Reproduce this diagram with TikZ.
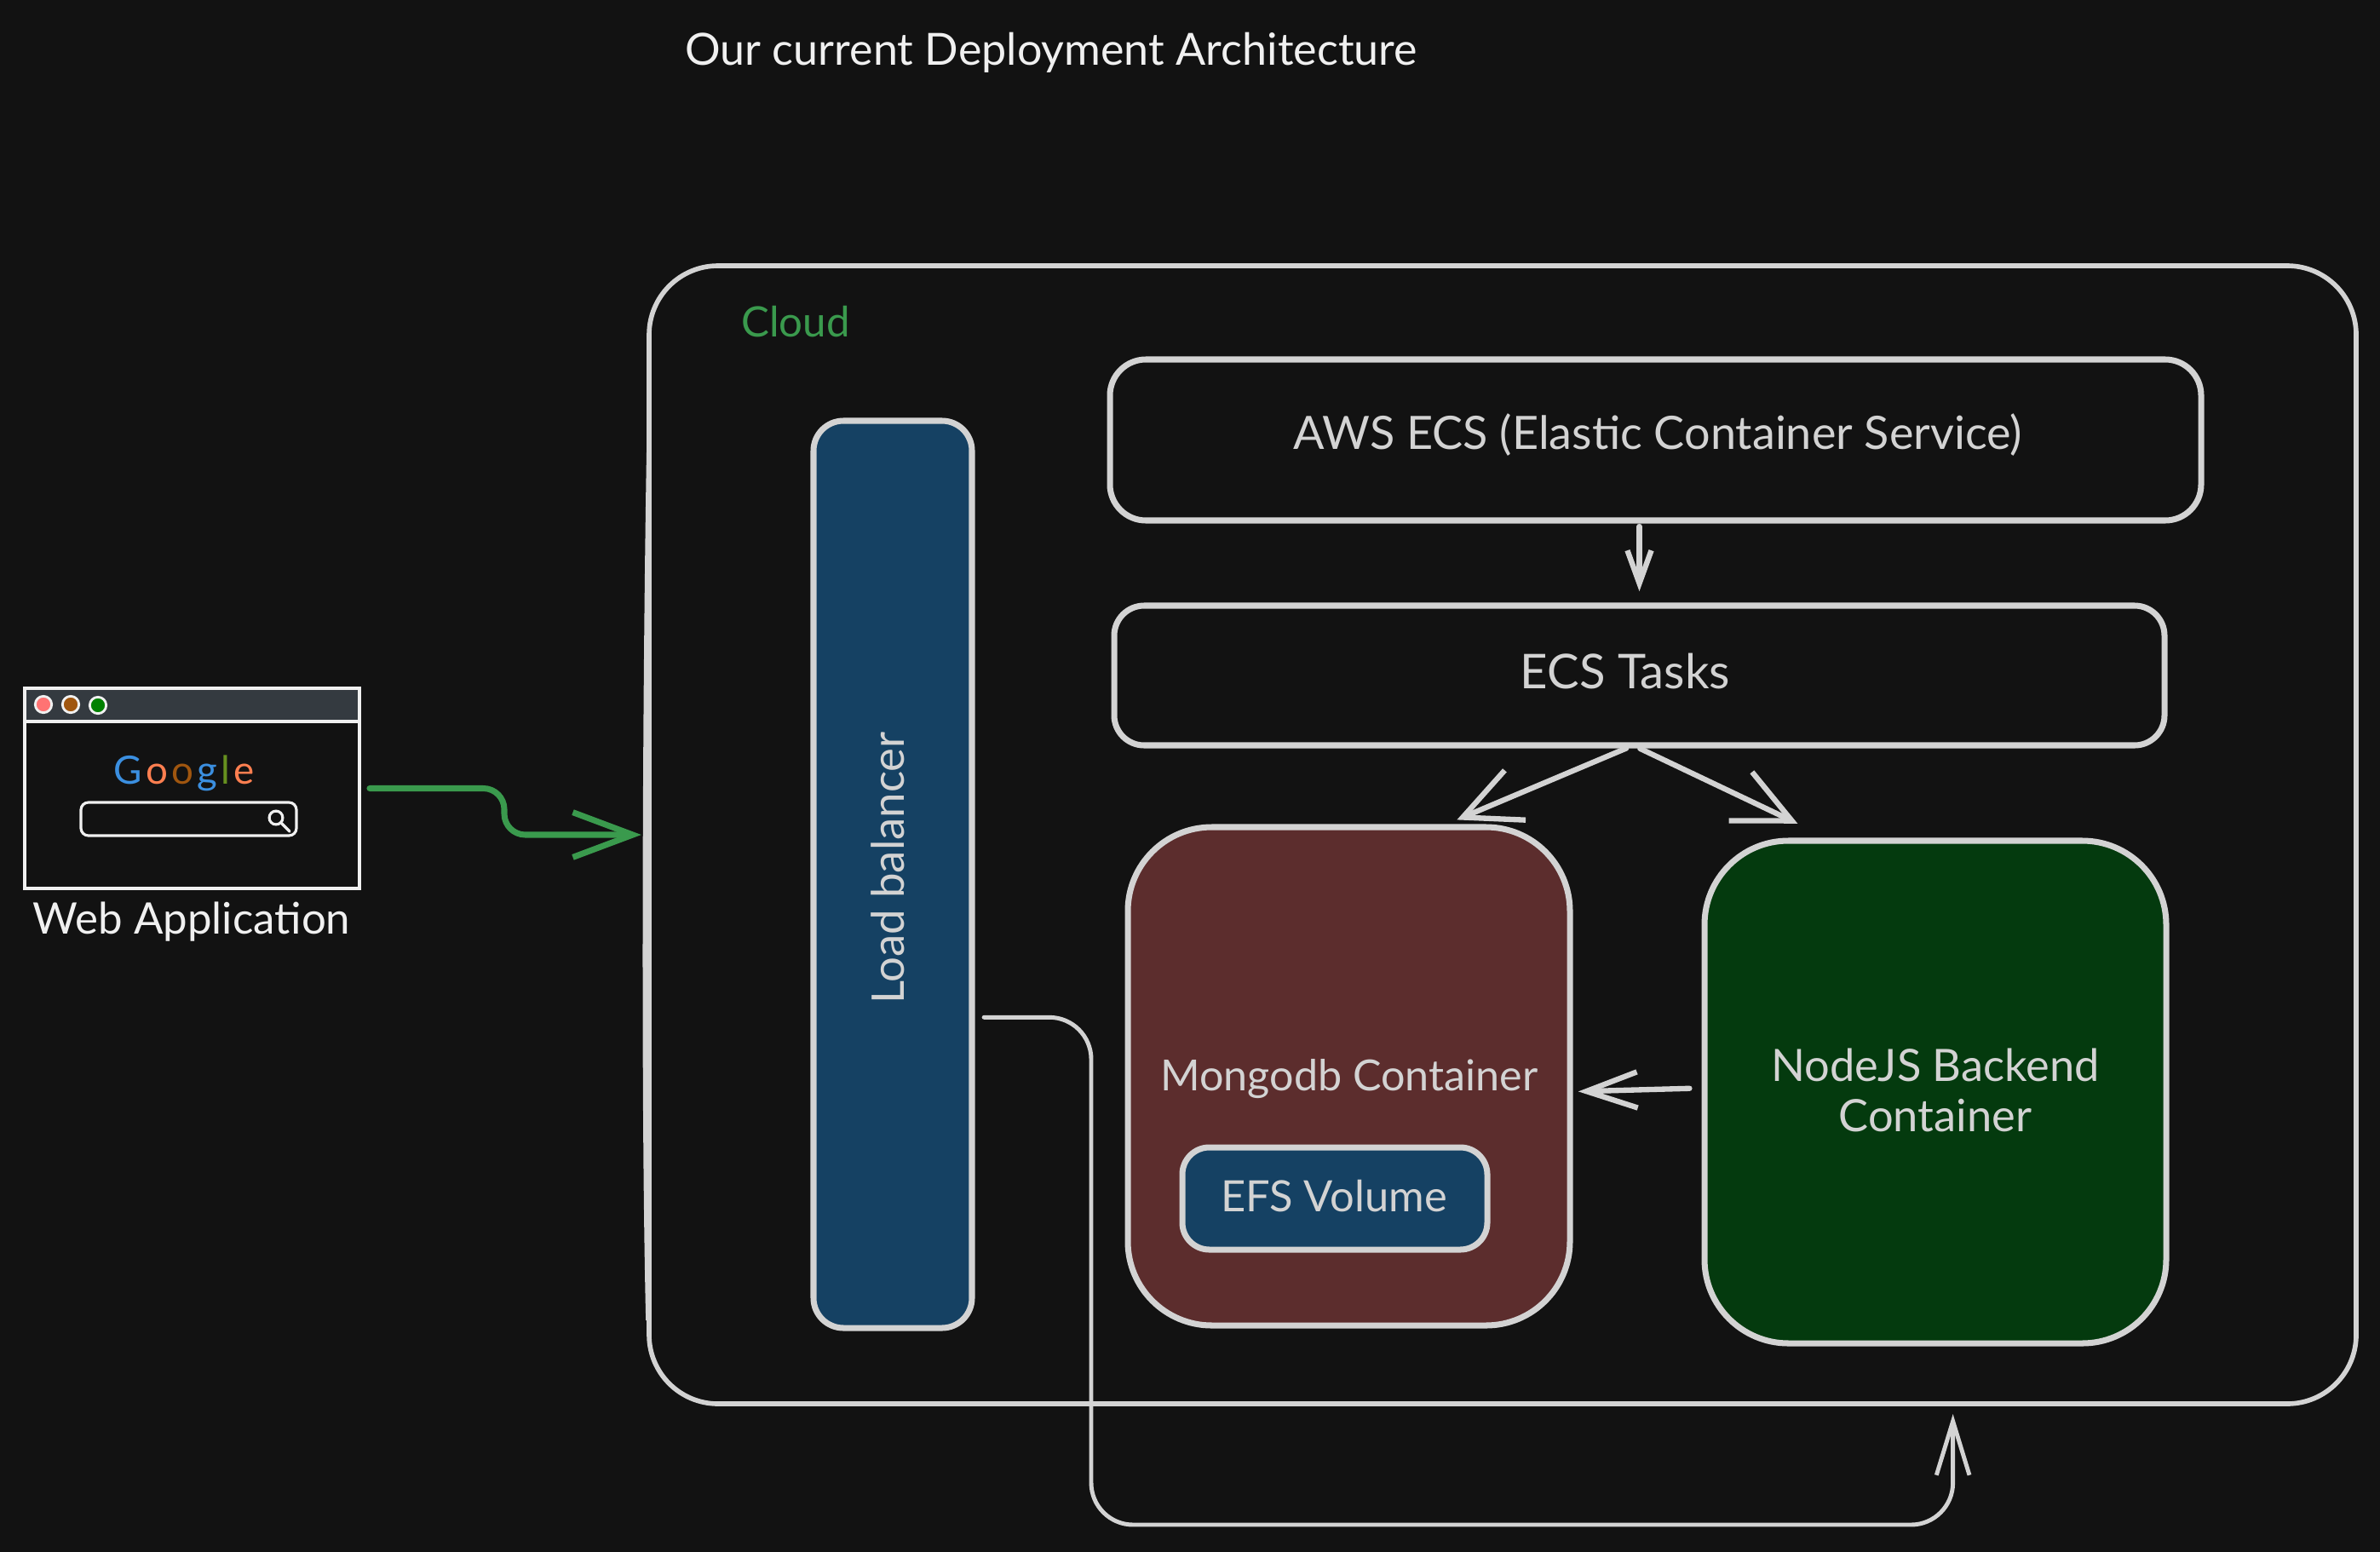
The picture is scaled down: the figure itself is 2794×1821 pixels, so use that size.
\documentclass[tikz,border=0pt]{standalone}
\usepackage{fontspec}
\setmainfont{Lato}
\usepackage{tikz}
\usetikzlibrary{arrows.meta,fit,positioning}
\definecolor{pagebg}{HTML}{121212}
\definecolor{stroke}{HTML}{D3D3D3}
\definecolor{chalk}{HTML}{F0F0F0}
\definecolor{lbblue}{HTML}{154163}
\definecolor{maroon}{HTML}{5C2D2D}
\definecolor{nodegreen}{HTML}{043A0E}
\definecolor{flowgreen}{HTML}{3A9A4D}
\definecolor{barcol}{HTML}{343A40}
\definecolor{gblue}{HTML}{3B8FE0}
\definecolor{gorange}{HTML}{FF7F50}
\definecolor{gbrown}{HTML}{A0560F}
\definecolor{golive}{HTML}{66901F}
\tikzset{
  box/.style={draw=stroke,line width=2pt,inner sep=0pt,outer sep=0pt},
  txt/.style={inner sep=0pt,text=stroke,align=center,font=\fontsize{#1}{17}\selectfont},
  txt/.default=14.5,
  win/.style={draw=chalk,line width=0.9pt,inner sep=0pt,outer sep=0pt},
  dot/.style={circle,draw=chalk,line width=0.8pt,minimum size=5.5pt,inner sep=0pt},
  flow/.style={draw=stroke,line width=1.8pt,line cap=round,line join=round},
  barb/.style 2 args={-{Straight Barb[length=#1,width=#2]}},
}
\begin{document}
\begin{tikzpicture}[x=0.01cm,y=-0.01cm]
\useasboundingbox (0,0) rectangle (2794,1821);
\fill[pagebg] (-20,-20) rectangle (2814,1841);
\node[txt=14.8,text=chalk] (title) at (1234,62) {Our current Deployment Architecture};
% browser window
\node[win,fit={(29,808) (422,1043)}] (browser) {};
\node[win,fill=barcol,fit={(29,808) (422,847)}] (bar) {};
\node[dot,fill=red!55!white] (dotA) at (51,827) {};
\node[dot,fill=gbrown] (dotB) at (83,827) {};
\node[dot,fill=green!50!black] (dotC) at (115,828) {};
\node[inner sep=0pt,font=\fontsize{13}{15}\selectfont] (google) at (216,908)
  {\textcolor{gblue}{G}\kern1.2pt\textcolor{gorange}{o}\kern1.2pt\textcolor{gbrown}{o}\kern1.2pt\textcolor{gblue}{g}\kern1.2pt\textcolor{golive}{l}\kern1.2pt\textcolor{gorange}{e}};
\node[win,rounded corners=2.5pt,fit={(95,942) (348,981)}] (search) {};
\node[circle,draw=chalk,line width=0.9pt,minimum size=4.5pt,inner sep=0pt] (lens) at (324,960) {};
\coordinate (lensend) at (340,976);
\draw[draw=chalk,line width=1pt,line cap=round] (lens) -- (lensend);
\node[txt,text=chalk] (webapp) at (225,1082) {Web Application};
% cloud and its boxes
\node[box,line width=1.6pt,rounded corners=23pt,fit={(762,312) (2766,1648)}] (cloud) {};
\draw[draw=stroke,line width=1.6pt] (762,520) .. controls (757,800) and (755,1300) .. (761,1550);
\node[txt=14,text=flowgreen] (cloudname) at (934,378) {Cloud};
\node[box,fill=lbblue,rounded corners=10pt,fit={(955,494) (1141,1559)}] (lb) {};
\node[txt=15,rotate=90] (lbname) at (1042,1019) {Load balancer};
\node[box,rounded corners=12pt,fit={(1303,422) (2584,611)}] (service) {};
\node[txt=15.35] (servicename) at (1946,511) {AWS ECS (Elastic Container Service)};
\node[box,rounded corners=10pt,fit={(1308,711) (2541,875)}] (tasks) {};
\node[txt=16] (tasksname) at (1908,788) {ECS Tasks};
\node[box,fill=maroon,rounded corners=28pt,fit={(1324,971) (1843,1556)}] (mongo) {};
\node[txt=14.3] (mongoname) at (1584,1267) {Mongodb Container};
\node[box,fill=lbblue,rounded corners=9pt,fit={(1388,1347) (1746,1467)}] (efs) {};
\node[txt=14.4] (efsname) at (1566,1404) {EFS Volume};
\node[box,fill=nodegreen,rounded corners=28pt,fit={(2001,987) (2543,1577)}] (backend) {};
\node[txt=14.9] (backendname) at (2272,1280) {NodeJS Backend\\Container};
% connectors
\coordinate (bend) at (592,980);
\coordinate (under) at (1281,1790);
\draw[flow,draw=flowgreen,line width=2pt,rounded corners=7pt,barb={20pt}{15pt},shorten <=3.4pt,shorten >=2.6pt]
  (browser.east) -| (bend) -- (cloud.west);
\draw[flow,barb={11pt}{8pt},shorten <=2pt,shorten >=4.8pt] (tasks.north |- service.south) -- (tasks.north);
\draw[flow,barb={19pt}{18pt},shorten <=2.5pt,shorten >=6.3pt] (tasks.265) -- (mongo.70);
\draw[flow,barb={19pt}{18pt},shorten <=2.5pt,shorten >=13.4pt] (tasks.265) -- (backend.112);
\draw[flow,barb={17pt}{12pt},shorten <=5pt,shorten >=2.8pt] (backend.179) -- (mongo.-4);
\draw[flow,line width=1.4pt,rounded corners=14pt,barb={18pt}{11pt},shorten <=4pt,shorten >=23.6pt]
  (lb.-61) -| (under) -| (backend.-86);
\end{tikzpicture}
\end{document}
